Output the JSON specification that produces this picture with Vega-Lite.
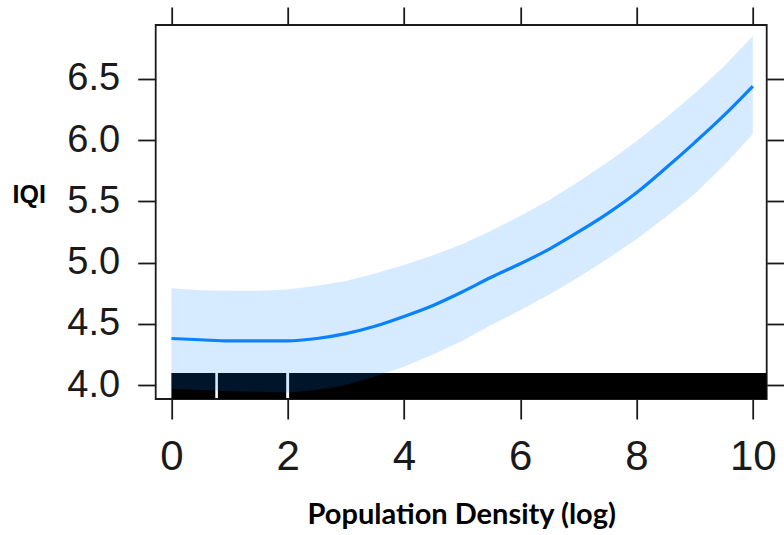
{
  "$schema": "https://vega.github.io/schema/vega-lite/v6.json",
  "autosize": {"type": "none"},
  "padding": {"left": 155.7, "top": 25, "right": 17.3, "bottom": 136},
  "width": 611,
  "height": 374,
  "background": "white",
  "config": {
    "view": {"stroke": "#1a1a1a", "strokeWidth": 1.8},
    "axis": {"grid": false, "domain": false, "tickColor": "#1a1a1a", "tickWidth": 1.8, "labelColor": "#1a1a1a", "labelFont": "Liberation Sans"}
  },
  "resolve": {"axis": {"x": "independent", "y": "independent"}},
  "datasets": {
    "curve": [
      {"x": 0, "fit": 4.38, "lower": 3.97, "upper": 4.79},
      {"x": 0.5, "fit": 4.37, "lower": 3.96, "upper": 4.775},
      {"x": 1, "fit": 4.36, "lower": 3.95, "upper": 4.77},
      {"x": 1.5, "fit": 4.36, "lower": 3.945, "upper": 4.77},
      {"x": 2, "fit": 4.36, "lower": 3.94, "upper": 4.78},
      {"x": 2.5, "fit": 4.38, "lower": 3.96, "upper": 4.81},
      {"x": 3, "fit": 4.42, "lower": 4.0, "upper": 4.85},
      {"x": 3.5, "fit": 4.48, "lower": 4.07, "upper": 4.91},
      {"x": 4, "fit": 4.56, "lower": 4.15, "upper": 4.98},
      {"x": 4.5, "fit": 4.65, "lower": 4.25, "upper": 5.06},
      {"x": 5, "fit": 4.76, "lower": 4.36, "upper": 5.15},
      {"x": 5.5, "fit": 4.88, "lower": 4.49, "upper": 5.26},
      {"x": 6, "fit": 4.99, "lower": 4.61, "upper": 5.38},
      {"x": 6.5, "fit": 5.11, "lower": 4.74, "upper": 5.51},
      {"x": 7, "fit": 5.25, "lower": 4.88, "upper": 5.66},
      {"x": 7.5, "fit": 5.4, "lower": 5.03, "upper": 5.82},
      {"x": 8, "fit": 5.57, "lower": 5.19, "upper": 5.99},
      {"x": 8.5, "fit": 5.77, "lower": 5.37, "upper": 6.18},
      {"x": 9, "fit": 5.98, "lower": 5.56, "upper": 6.38},
      {"x": 9.5, "fit": 6.2, "lower": 5.79, "upper": 6.6},
      {"x": 10, "fit": 6.44, "lower": 6.05, "upper": 6.85}
    ],
    "rug": [
      {"start": 0, "end": 0.755, "top": 4.098, "bottom": 3.886},
      {"start": 0.8, "end": 1.975, "top": 4.098, "bottom": 3.886},
      {"start": 2.025, "end": 10.24, "top": 4.098, "bottom": 3.886}
    ]
  },
  "layer": [
    {
      "data": {"name": "rug"},
      "mark": {"type": "rect", "color": "black", "clip": true},
      "encoding": {
        "x": {"field": "start", "type": "quantitative", "scale": {"domain": [-0.27, 10.24], "nice": false, "zero": false},
          "axis": {"orient": "bottom", "values": [0, 2, 4, 6, 8, 10], "tickSize": 20, "labelPadding": 17, "labelFontSize": 42, "labelFlush": false,
            "title": "Population Density (log)", "titleFont": "Lato", "titleFontWeight": "bold", "titleFontSize": 29, "titleColor": "black",
            "titleY": 124, "titleBaseline": "alphabetic"}},
        "x2": {"field": "end"},
        "y": {"field": "top", "type": "quantitative", "scale": {"domain": [3.886, 6.94], "nice": false, "zero": false},
          "axis": {"orient": "left", "values": [4, 4.5, 5, 5.5, 6, 6.5], "format": ".1f", "tickSize": 18, "labelPadding": 18, "labelFontSize": 38,
            "title": "IQI", "titleAngle": 0, "titleFont": "Liberation Sans", "titleFontWeight": "bold", "titleFontSize": 25, "titleColor": "black",
            "titleX": -143.7, "titleY": 169, "titleAlign": "left", "titleBaseline": "middle"}},
        "y2": {"field": "bottom"}
      }
    },
    {
      "data": {"name": "curve"},
      "mark": {"type": "area", "color": "#0080FF", "opacity": 0.16, "clip": true},
      "encoding": {
        "x": {"field": "x", "type": "quantitative",
          "axis": {"orient": "top", "values": [0, 2, 4, 6, 8, 10], "tickSize": 18, "labels": false, "title": null}},
        "y": {"field": "lower", "type": "quantitative",
          "axis": {"orient": "right", "values": [4, 4.5, 5, 5.5, 6, 6.5], "tickSize": 18, "labels": false, "title": null}},
        "y2": {"field": "upper"}
      }
    },
    {
      "data": {"name": "curve"},
      "mark": {"type": "line", "color": "#0A82FF", "strokeWidth": 3.2, "interpolate": "monotone", "clip": true},
      "encoding": {
        "x": {"field": "x", "type": "quantitative", "axis": null},
        "y": {"field": "fit", "type": "quantitative", "axis": null}
      }
    }
  ]
}
